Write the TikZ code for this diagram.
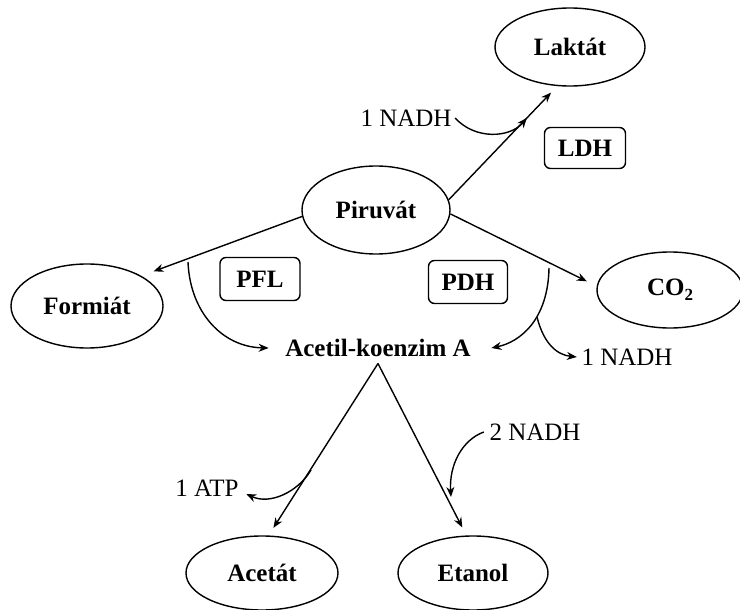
\documentclass[tikz,border=0pt]{standalone}
\usepackage{fontspec}
\setmainfont{Liberation Serif}
\usetikzlibrary{shapes.geometric,arrows.meta,calc}
\begin{document}
\begin{tikzpicture}[x=1pt,y=-1pt,line width=1.4pt,
  txt/.style={font=\fontsize{25}{30}\selectfont, inner sep=0pt},
  btxt/.style={font=\fontsize{25}{30}\selectfont\bfseries, inner sep=0pt},
  ell/.style={draw, ellipse, btxt, inner sep=0pt},
  enz/.style={draw, rounded corners=6pt, btxt, inner sep=0pt},
  arr/.style={-{Stealth[length=10pt,width=8pt]}}]
\useasboundingbox (0,0) rectangle (740,610);
% nodes
\node[ell, minimum width=150pt, minimum height=78pt] (lakt) at (570,47) {Laktát};
\node[enz, minimum width=81pt, minimum height=41pt] (ldh) at (585,148) {LDH};
\node[ell, minimum width=148pt, minimum height=88pt] (piru) at (376,210) {Piruvát};
\node[ell, minimum width=152pt, minimum height=84pt] (form) at (87,306) {Formiát};
\node[enz, minimum width=80pt, minimum height=43pt] (pfl) at (260,279) {PFL};
\node[enz, minimum width=79pt, minimum height=43pt] (pdh) at (468,282) {PDH};
\node[ell, minimum width=146pt, minimum height=76pt] (co2) at (670,290) {CO\raisebox{-5pt}{\fontsize{17}{20}\selectfont 2}};
\node[btxt] (acet) at (378,348) {Acetil-koenzim A};
\node[txt] (nadhA) at (406,118) {1 NADH};
\node[txt] (nadhB) at (627,357) {1 NADH};
\node[txt] (nadhC) at (535,432) {2 NADH};
\node[txt] (atp) at (207,488) {1 ATP};
\node[ell, minimum width=152pt, minimum height=74pt] (acetat) at (262,573) {Acetát};
\node[ell, minimum width=150pt, minimum height=74pt] (etan) at (473,573) {Etanol};
% main arrows
\draw[arr, shorten >=9pt] (piru.8) -- (lakt.-108);
\draw[arr, shorten >=13pt] (piru.185) -- (form.29);
\draw[arr, shorten >=11pt] (piru.-3) -- (co2.177);
\coordinate (apex) at ($(acet.south)+(0,6)$);
\draw[arr, shorten >=9pt] (apex) -- (acetat.80);
\draw[arr, shorten >=9pt] (apex) -- (etan.100);
% side curves
\coordinate (mA) at ($(piru.8)!0.72!(lakt.-108)$);
\draw[arr] ([xshift=3pt]nadhA.east) .. controls (475,140) and (510,138) .. (mA);
\coordinate (pflS) at (188,262);
\draw[arr] (pflS) .. controls (190,312) and (222,347) .. ([xshift=-16pt]acet.west);
\coordinate (pdhS) at (549,268);
\draw[arr] (pdhS) .. controls (548,320) and (520,342) .. ([xshift=20pt]acet.east);
\coordinate (pdhB) at (537,317);
\draw[arr] (pdhB) .. controls (544,345) and (558,355) .. ([xshift=-4pt]nadhB.west);
\coordinate (mAtp) at (311,470);
\draw[arr] (mAtp) .. controls (298,492) and (270,505) .. ([xshift=7pt,yshift=-6pt]atp.east);
\draw[arr] ([xshift=-5pt]nadhC.west) .. controls (462,440) and (449,465) .. (451,497);
\end{tikzpicture}
\end{document}
